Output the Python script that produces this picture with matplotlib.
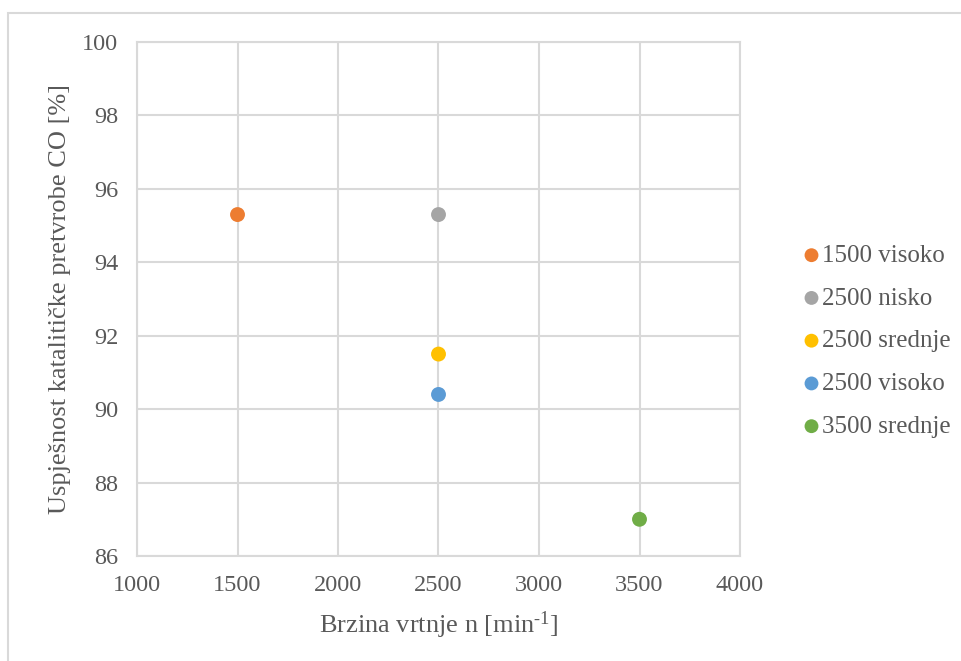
import matplotlib.pyplot as plt
from matplotlib.patches import Rectangle

# podaci
labels = ['1500 visoko', '2500 nisko', '2500 srednje', '2500 visoko', '3500 srednje']
brzina = [1500, 2500, 2500, 2500, 3500]
uspjesnost = [95.3, 95.3, 91.5, 90.4, 87.0]
boje = ['#ED7D31', '#A5A5A5', '#FFC000', '#5B9BD5', '#70AD47']

plt.rcParams['font.family'] = ['Liberation Serif', 'DejaVu Serif']
plt.rcParams['mathtext.fontset'] = 'custom'
plt.rcParams['mathtext.rm'] = 'Liberation Serif'
txt = '#595959'
grid_c = '#D9D9D9'

fig = plt.figure(figsize=(9.61, 6.61), dpi=100)
# okvir grafikona (desni i donji rub izlaze iz slike)
fig.patches.append(Rectangle((8 / 961, -0.05), 1.1, 1 - 13 / 661 + 0.05,
                             transform=fig.transFigure, fill=False,
                             edgecolor='#D9D9D9', linewidth=1.5))

ax = fig.add_axes([137 / 961, 1 - 556 / 661, 603 / 961, 514 / 661])

for x, y, c, lab in zip(brzina, uspjesnost, boje, labels):
    ax.scatter(x, y, s=115, color=c, label=lab, zorder=3, edgecolors='none')

ax.set_xlim(1000, 4000)
ax.set_ylim(86, 100)
ax.set_xticks(range(1000, 4001, 500))
ax.set_yticks(range(86, 101, 2))
ax.grid(True, color=grid_c, linewidth=1.5)
ax.set_axisbelow(True)
for s in ax.spines.values():
    s.set_color(grid_c)
    s.set_linewidth(1.5)
ax.tick_params(length=0, labelsize=17.5, colors=txt, pad=13.5)

ax.set_xlabel('Brzina vrtnje n [min$\\mathregular{^{\u20101}}$]', fontsize=19, color=txt)
ax.xaxis.set_label_coords(0.5, -0.104)
ax.set_ylabel('Uspješnost katalitičke pretvrobe CO [%]', fontsize=19, color=txt, labelpad=8)

ax.legend(loc='center left', bbox_to_anchor=(804 / 961, 1 - 341 / 661),
          bbox_transform=fig.transFigure, frameon=False, borderpad=0, borderaxespad=0,
          fontsize=18, labelcolor=txt, handletextpad=0.1, labelspacing=0.81,
          markerscale=0.93, handlelength=0.6)

plt.savefig('out.png', dpi=100)
